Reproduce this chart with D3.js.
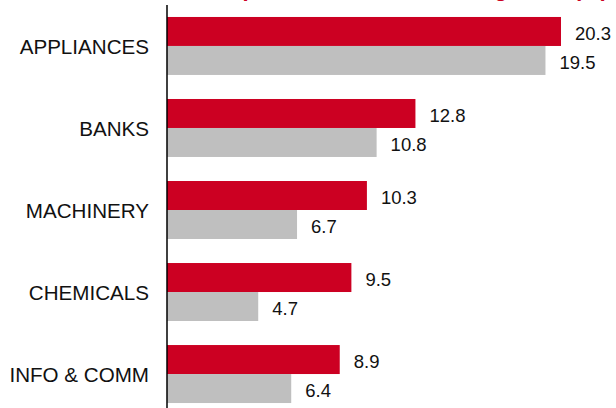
<!DOCTYPE html>
<html><head><meta charset="utf-8">
<script src="https://cdn.jsdelivr.net/npm/d3@7"></script>
<style>body{margin:0;background:#fff}svg{display:block}</style>
</head><body>
<svg id="c" width="616" height="408"></svg>
<script>
const categories = ["APPLIANCES","BANKS","MACHINERY","CHEMICALS","INFO & COMM"];
const seriesNames = ["current","previous"];
const currentValues = [20.3, 12.8, 10.3, 9.5, 8.9];
const previousValues = [19.5, 10.8, 6.7, 4.7, 6.4];
const titleText = "Top 5 sectors: net income growth (%)";

const colors = {current:"#CC0022", previous:"#BFBFBF"};
const svg = d3.select("#c");
const font = "'Liberation Sans', Arial, sans-serif";

const x = d3.scaleLinear().domain([0, 20.3]).range([167, 561]);
const y = d3.scaleBand().domain(categories).range([5, 415]).paddingInner(0.293).paddingOuter(0.146);
const ys = d3.scaleBand().domain(seriesNames).range([0, y.bandwidth()]);

const data = categories.map((c,i)=>({cat:c, values:[{s:"current",v:currentValues[i]},{s:"previous",v:previousValues[i]}]}));

svg.append("text").attr("x", 608).attr("y", -4).attr("text-anchor","end")
  .attr("font-family", font).attr("font-weight","bold").attr("font-size",22)
  .attr("fill","#CC0022").text(titleText);

const g = svg.selectAll("g.grp").data(data).join("g").attr("class","grp")
  .attr("transform", d=>`translate(0,${y(d.cat)})`);

g.selectAll("rect").data(d=>d.values).join("rect")
  .attr("x", x(0)).attr("y", d=>ys(d.s))
  .attr("width", d=>x(d.v)-x(0)).attr("height", ys.bandwidth())
  .attr("fill", d=>colors[d.s]);

g.selectAll("text.val").data(d=>d.values).join("text").attr("class","val")
  .attr("x", d=>x(d.v)+14).attr("y", d=>ys(d.s)+ys.bandwidth()/2+8.7)
  .attr("font-family", font).attr("font-size",18.5).attr("fill","#111")
  .text(d=>d3.format(".1f")(d.v));

const axis = d3.axisLeft(y).tickSize(0).tickPadding(18);
const ax = svg.append("g").attr("transform",`translate(${x(0)},0)`).call(axis);
ax.select(".domain").remove();
ax.selectAll("text").attr("font-family", font).attr("font-size",20.6).attr("fill","#111").attr("dy","0.38em");

svg.append("line").attr("x1",x(0)).attr("x2",x(0)).attr("y1",5).attr("y2",408)
  .attr("stroke","#000").attr("stroke-width",1.5);
</script>
</body></html>
